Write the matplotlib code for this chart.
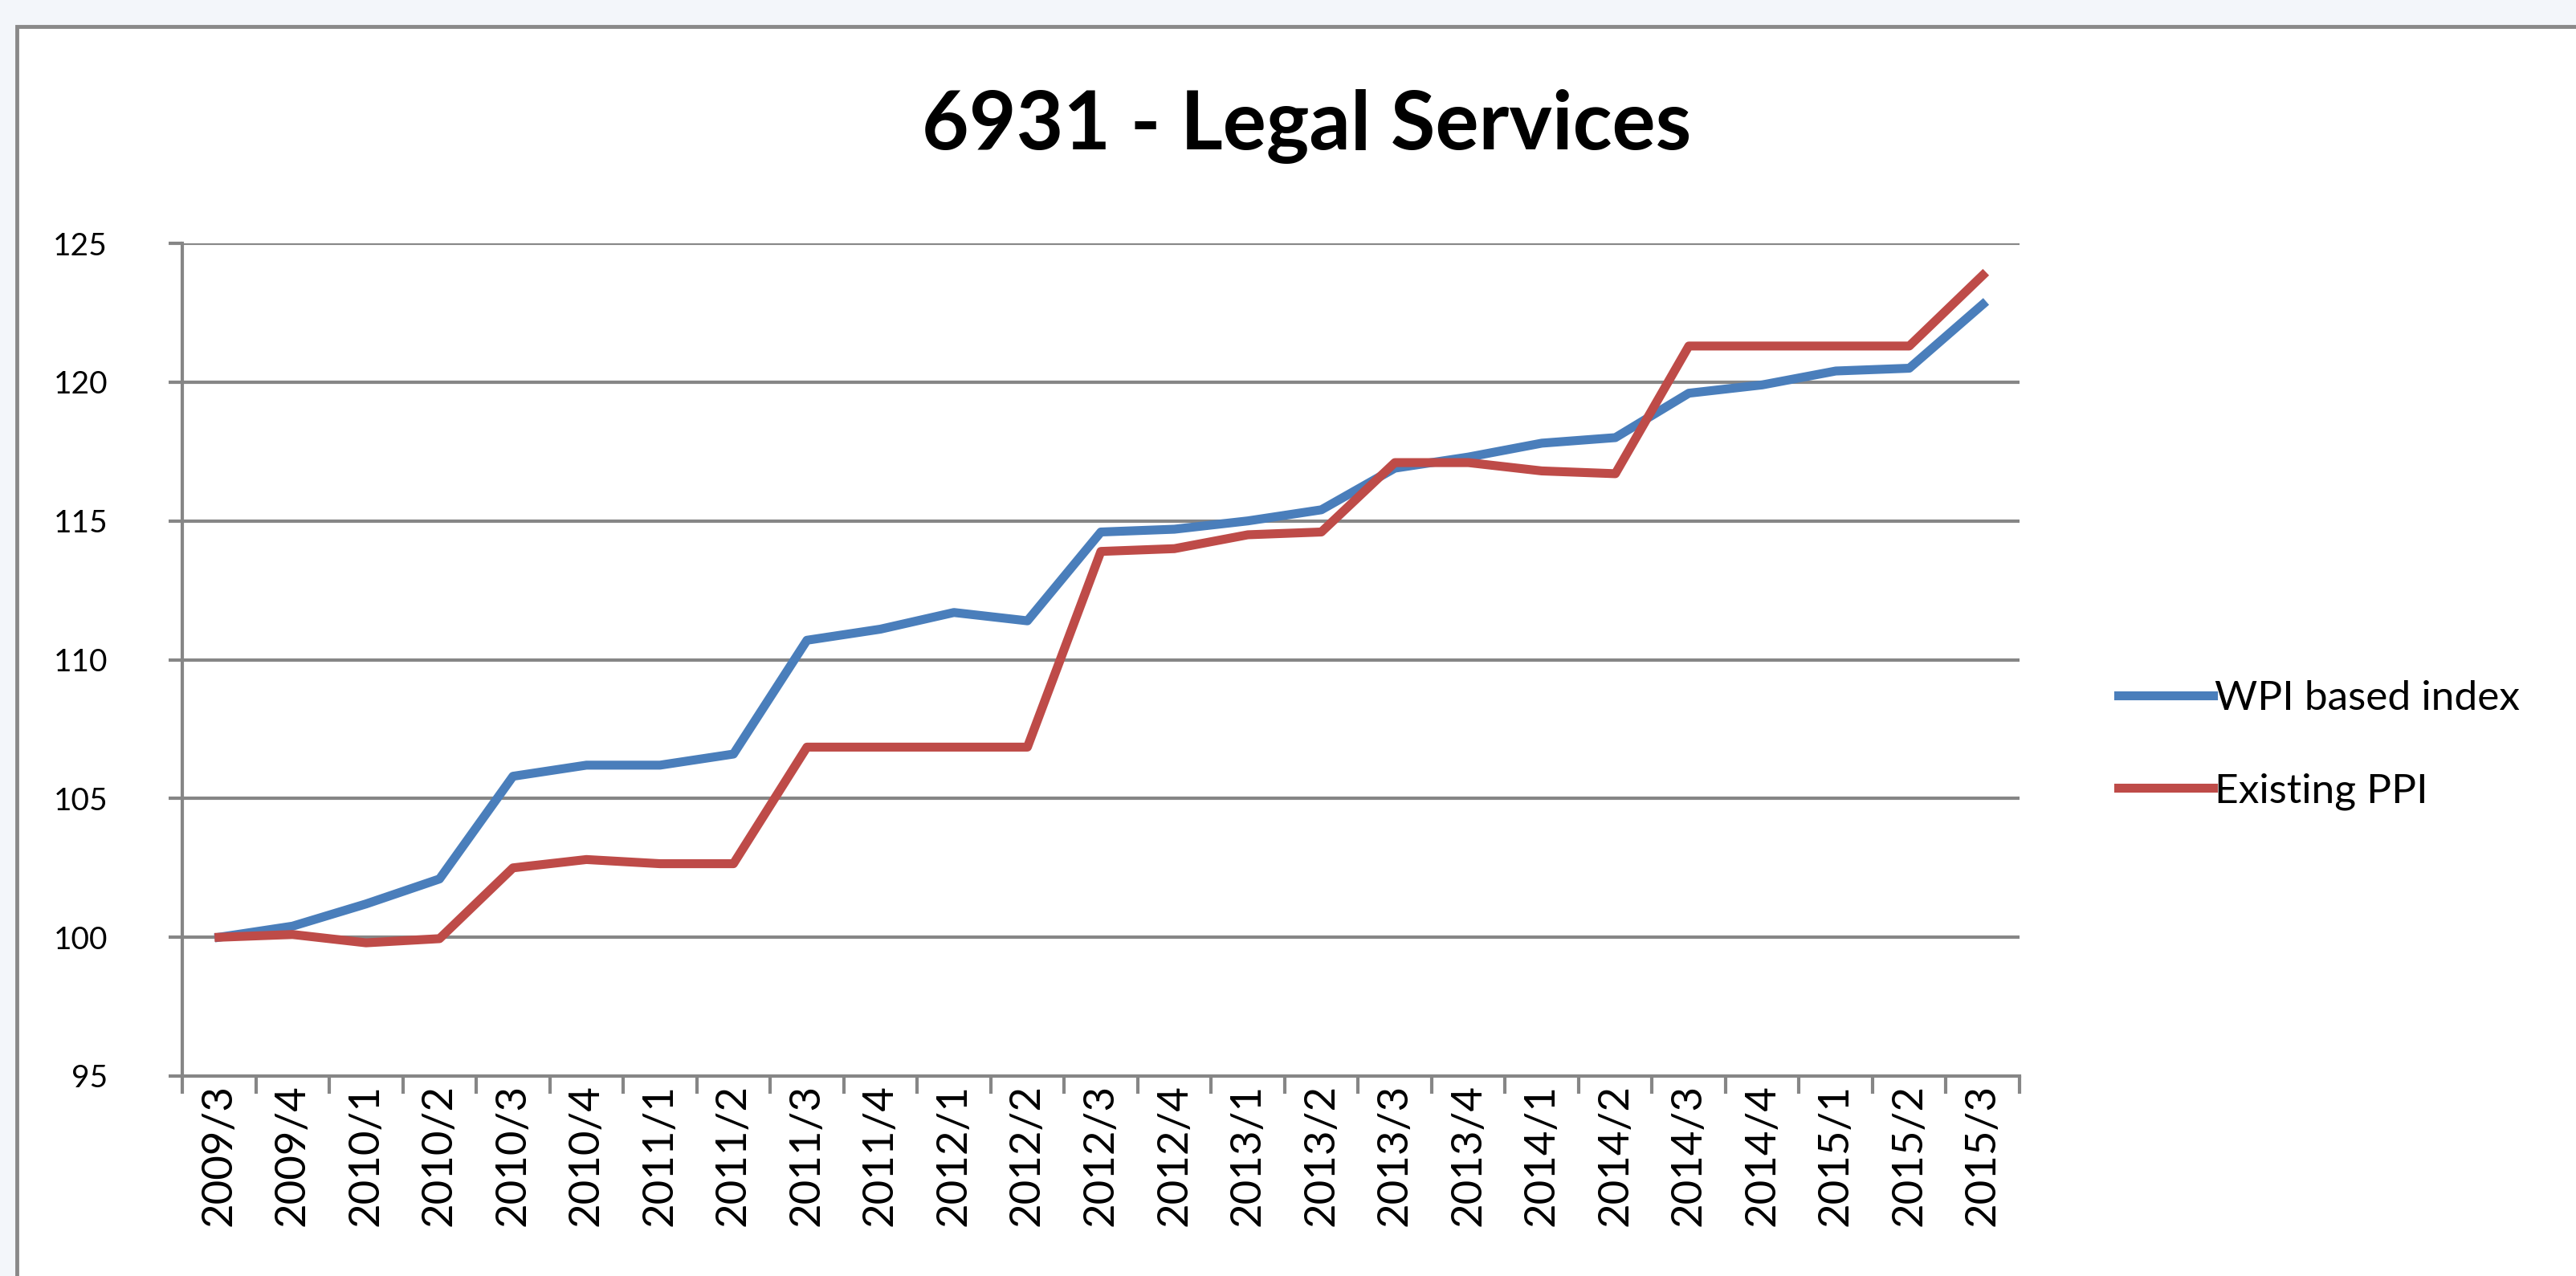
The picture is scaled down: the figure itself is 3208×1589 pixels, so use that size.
import matplotlib
matplotlib.use("Agg")
import matplotlib.pyplot as plt
from matplotlib.patches import Rectangle

# quarters on the x axis
quarters = ["2009/3", "2009/4", "2010/1", "2010/2", "2010/3", "2010/4",
            "2011/1", "2011/2", "2011/3", "2011/4", "2012/1", "2012/2",
            "2012/3", "2012/4", "2013/1", "2013/2", "2013/3", "2013/4",
            "2014/1", "2014/2", "2014/3", "2014/4", "2015/1", "2015/2",
            "2015/3"]

# WPI based index (blue)
wpi = [100.0, 100.4, 101.2, 102.1, 105.8, 106.2, 106.2, 106.6, 110.7, 111.1,
       111.7, 111.4, 114.6, 114.7, 115.0, 115.4, 116.9, 117.3, 117.8, 118.0,
       119.6, 119.9, 120.4, 120.5, 122.8]

# Existing PPI (red)
ppi = [100.0, 100.1, 99.8, 99.95, 102.5, 102.8, 102.65, 102.65, 106.85, 106.85,
       106.85, 106.85, 113.9, 114.0, 114.5, 114.6, 117.1, 117.1, 116.8, 116.7,
       121.3, 121.3, 121.3, 121.3, 123.85]

yticks = [95, 100, 105, 110, 115, 120, 125]

font = "Lato"
grey = "#868686"

fig = plt.figure(figsize=(32.08, 15.89), dpi=100)
fig.patch.set_facecolor("#F3F6FA")

#white chart area with a grey frame
W, H = 3208, 1589
frame = Rectangle((21 / W, -0.1), 1.2, 1 - 33 / H + 0.1, transform=fig.transFigure,
                  facecolor="white", edgecolor="#898989", linewidth=3.5, zorder=-1)
fig.patches.append(frame)

ax = fig.add_axes([227 / W, 1 - 1340 / H, (2515 - 227) / W, (1340 - 303) / H])
ax.set_facecolor("none")
ax.set_zorder(2)

x = list(range(len(quarters)))
ax.plot(x, wpi, color="#4A7EBB", linewidth=8, label="WPI based index",
        solid_joinstyle="round", zorder=3)
ax.plot(x, ppi, color="#BE4B48", linewidth=8, label="Existing PPI",
        solid_joinstyle="round", zorder=3)

ax.set_xlim(-0.5, len(quarters) - 0.5)
ax.set_ylim(95, 125)
ax.set_yticks(yticks)
ax.set_yticklabels([str(v) for v in yticks], fontsize=28, family=font)

ax.set_xticks([i - 0.5 for i in range(len(quarters) + 1)])
ax.set_xticklabels([])
ax.set_xticks(x, minor=True)
ax.set_xticklabels(quarters, minor=True, rotation=90, fontsize=38, family=font)
ax.tick_params(axis="x", which="minor", length=0, pad=7)
ax.tick_params(axis="x", which="major", length=16, width=3, color=grey, direction="out")
ax.tick_params(axis="y", length=12, width=3, color=grey, direction="out", pad=55)

for v in yticks[1:]:
    ax.axhline(v, color=grey, linewidth=3, zorder=1)

for side in ["top", "right"]:
    ax.spines[side].set_visible(False)
for side in ["left", "bottom"]:
    ax.spines[side].set_color(grey)
    ax.spines[side].set_linewidth(3)

leg = ax.legend(loc="center left", bbox_to_anchor=(2612 / W, 1 - 928 / H),
                bbox_transform=fig.transFigure, frameon=False,
                prop={"family": font, "size": 37}, handlelength=2.3,
                handletextpad=0.05, labelspacing=1.35, borderpad=0)

fig.text(1627 / W, 1 - 158 / H, "6931 - Legal Services", ha="center", va="center",
         fontsize=73, fontweight="bold", family=font)

fig.savefig("out.png", dpi=100, facecolor=fig.get_facecolor())
